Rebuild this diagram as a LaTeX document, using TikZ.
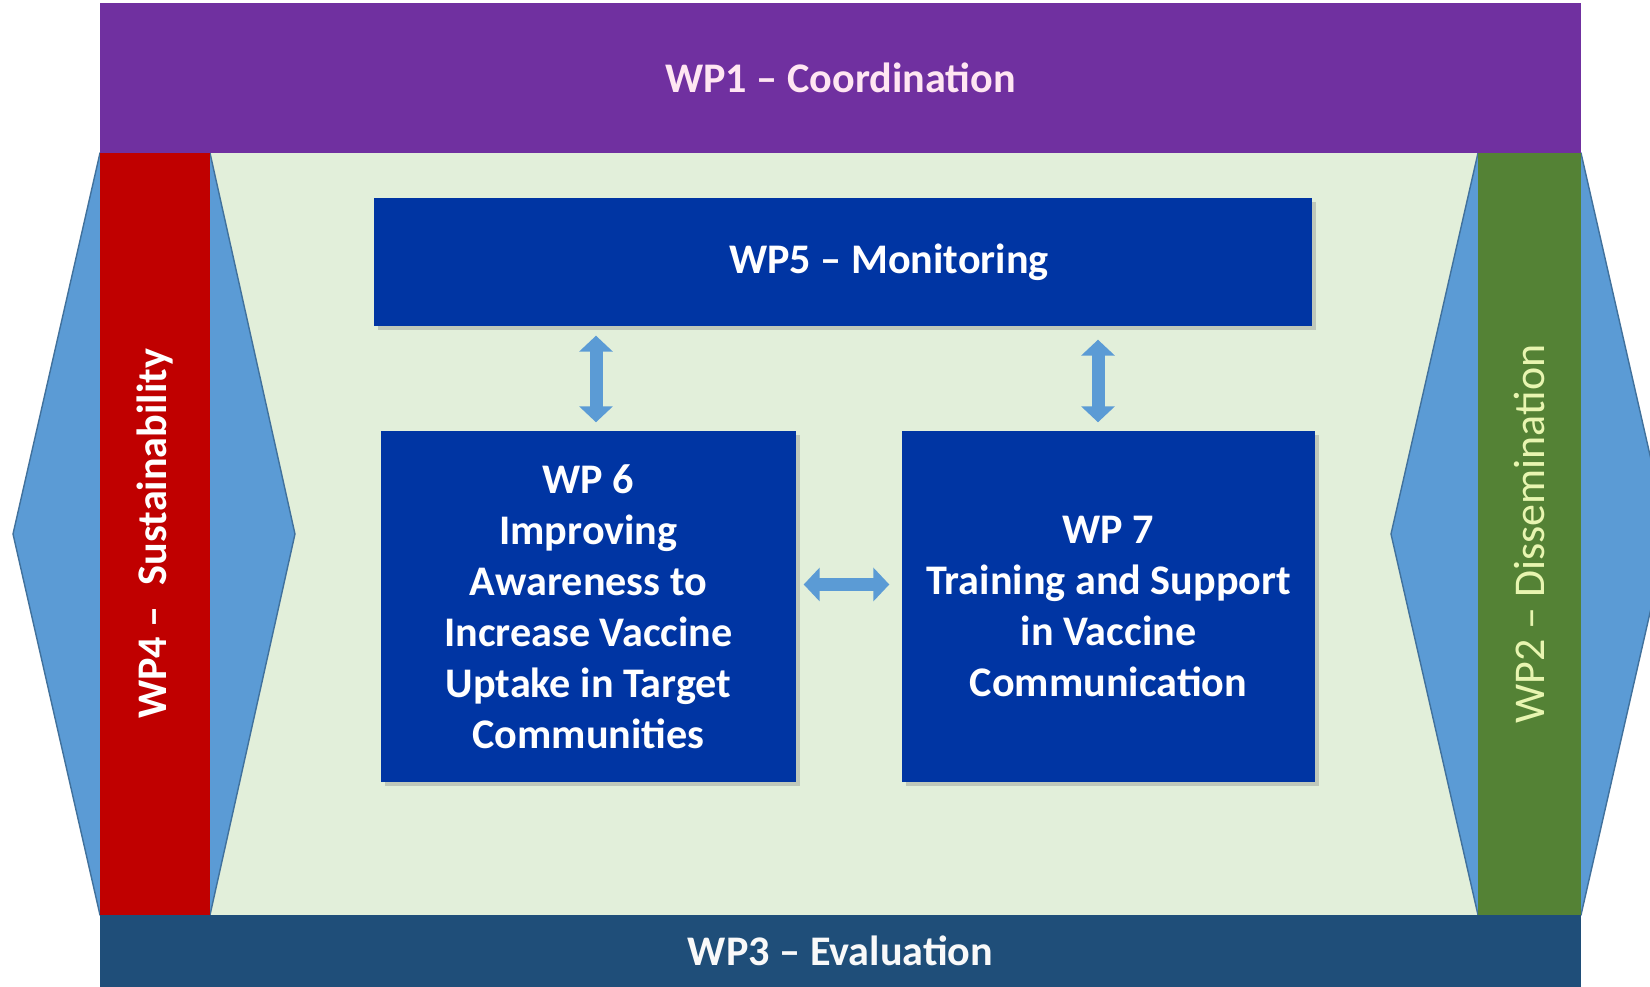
\documentclass[tikz,border=0pt]{standalone}
\usepackage{fontspec}
\setmainfont{Carlito}
\usepackage{tikz}
\usetikzlibrary{arrows.meta, shadows}
\definecolor{wpPurple}{HTML}{7030A0}
\definecolor{wpRed}{HTML}{C00000}
\definecolor{wpGreen}{HTML}{548235}
\definecolor{wpNavy}{HTML}{1F4E79}
\definecolor{boxBlue}{HTML}{0035A3}
\definecolor{hexBlue}{HTML}{5B9BD5}
\definecolor{hexEdge}{HTML}{41719C}
\definecolor{bgGreen}{HTML}{E2EFDA}
\definecolor{pinkText}{HTML}{FFE6F2}
\definecolor{limeText}{HTML}{E8F5B0}

\begin{document}
\begin{tikzpicture}[
    bar/.style={fill=#1, inner sep=0pt, font=\bfseries\fontsize{12}{14}\selectfont},
    wpbox/.style={fill=boxBlue, text=white, inner sep=0pt, align=center,
        font=\bfseries\fontsize{12}{14.5}\selectfont,
        drop shadow={opacity=0.35, shadow xshift=0.04cm, shadow yshift=-0.04cm}},
    dblarrow/.style={draw=hexBlue, line width=0.13cm,
        {Triangle[width=0.33cm,length=0.16cm]}-{Triangle[width=0.33cm,length=0.16cm]}}
]
    \useasboundingbox (0,0) rectangle (16.5,9.87);
    \clip (0,0) rectangle (16.5,9.87);
    \fill[white] (0,0) rectangle (16.5,9.87);
    \fill[bgGreen] (2.1,0.72) rectangle (14.78,8.34);
    \filldraw[fill=hexBlue, draw=hexEdge] (1,8.34) -- (2.1,8.34) -- (2.95,4.53) -- (2.1,0.72) -- (1,0.72) -- (0.13,4.53) -- cycle;
    \filldraw[fill=hexBlue, draw=hexEdge] (14.78,8.34) -- (15.81,8.34) -- (16.68,4.53) -- (15.81,0.72) -- (14.78,0.72) -- (13.91,4.53) -- cycle;

    \node[bar=wpPurple, text=pinkText, minimum width=14.81cm, minimum height=1.5cm] (wp1) at (8.405,9.09) {WP1 -- Coordination};
    \node[bar=wpNavy, text=white!95!gray, minimum width=14.81cm, minimum height=0.72cm] (wp3) at (8.405,0.36) {WP3 -- Evaluation};
    \node[bar=wpRed, text=white, rotate=90, minimum width=7.62cm, minimum height=1.1cm] (wp4) at (1.55,4.53) {WP4 --\enspace Sustainability};
    \node[bar=wpGreen, text=limeText, font=\fontsize{12.5}{14}\selectfont, rotate=90, minimum width=7.62cm, minimum height=1.03cm] (wp2) at (15.295,4.53) {WP2 -- Dissemination};

    \node[wpbox, minimum width=9.38cm, minimum height=1.28cm] (wp5) at (8.43,7.25) {\hspace*{0.92cm}WP5 -- Monitoring};
    \node[wpbox, minimum width=4.15cm, minimum height=3.51cm] (wp6) at (5.885,3.805) {WP 6\\Improving\\Awareness to\\Increase Vaccine\\Uptake in Target\\Communities};
    \node[wpbox, minimum width=4.13cm, minimum height=3.51cm] (wp7) at (11.085,3.805) {WP 7\\Training and Support\\in Vaccine\\Communication};

    \draw[dblarrow, shorten <=0.08cm, shorten >=0.09cm] ([xshift=0.075cm]wp6.north) -- ([xshift=0.075cm]wp6.north |- wp5.south);
    \draw[dblarrow, shorten <=0.08cm, shorten >=0.13cm] ([xshift=-0.105cm]wp7.north) -- ([xshift=-0.105cm]wp7.north |- wp5.south);
    \draw[dblarrow, shorten <=0.07cm, shorten >=0.12cm] ([yshift=0.22cm]wp6.east) -- ([yshift=0.22cm]wp7.west);
\end{tikzpicture}
\end{document}
